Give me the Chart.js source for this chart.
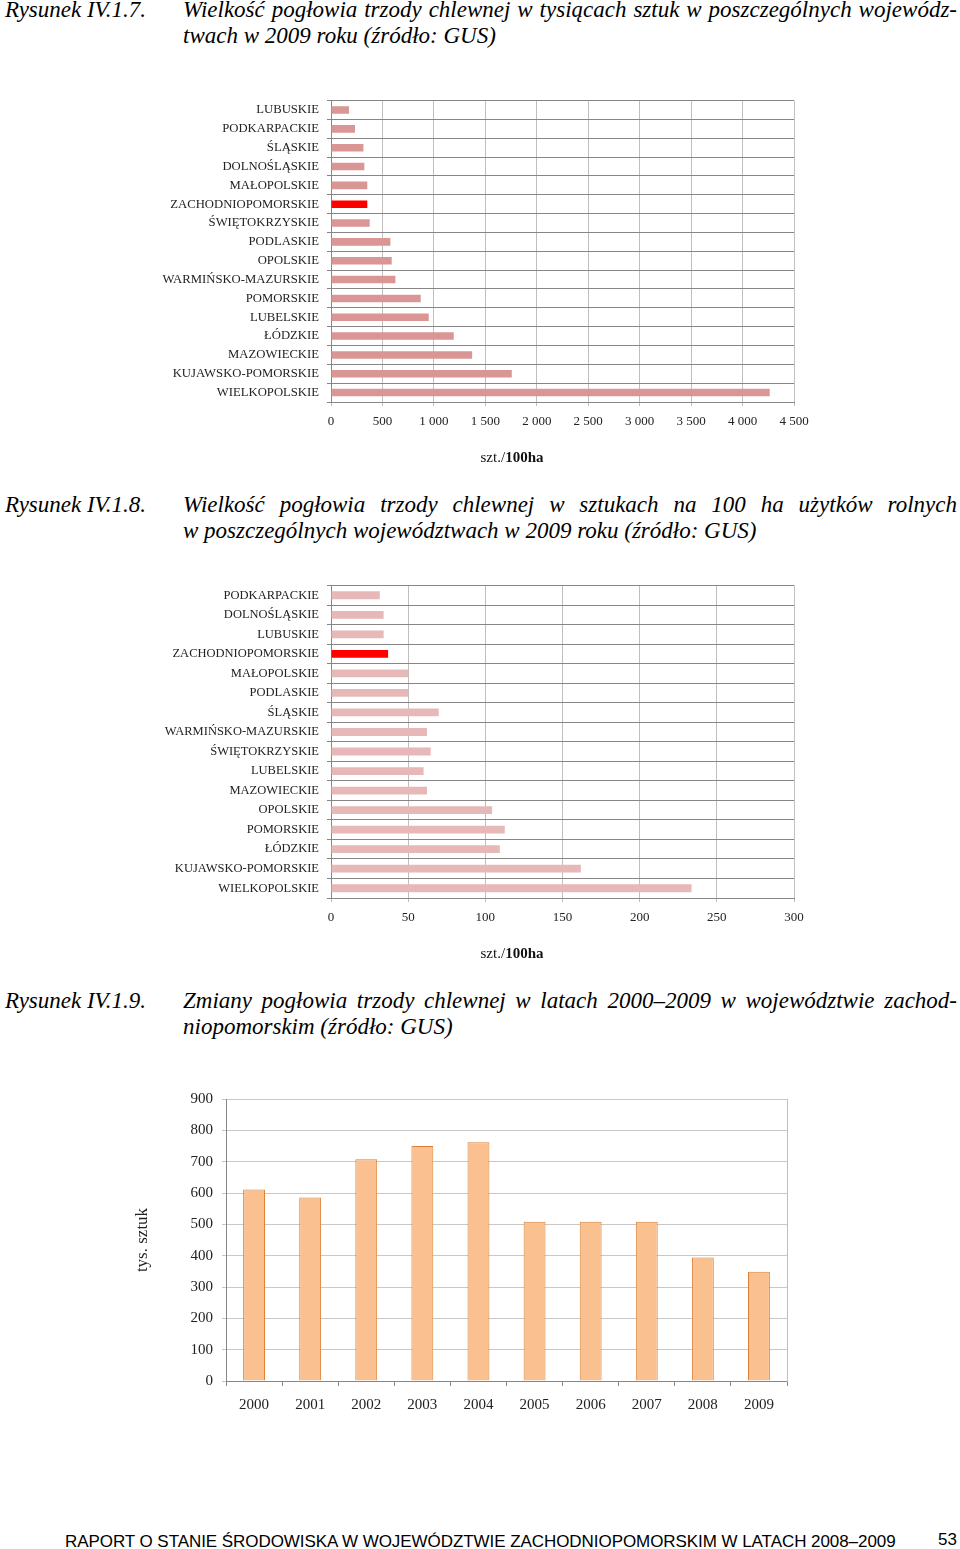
<!DOCTYPE html>
<html lang="pl">
<head>
<meta charset="utf-8">
<title>Pogłowie trzody chlewnej</title>
<script src="https://cdn.jsdelivr.net/npm/chart.js@4.4.0/dist/chart.umd.min.js"></script>
<style>
  body { margin: 0; background: #fff; width: 960px; height: 1549px; position: relative; overflow: hidden; font-family: "Liberation Serif", serif; color: #000; }
  .cap { position: absolute; font-style: italic; font-size: 23px; line-height: 26px; white-space: nowrap; }
  .num { left: 5px; }
  .txt { left: 183px; width: 774px; }
  .just { text-align: justify; text-align-last: justify; }
  .box { position: absolute; }
  .jedn { position: absolute; left: 412px; width: 200px; text-align: center; font-size: 15px; line-height: 18px; color: #111; }
  .stopka { position: absolute; left: 65px; top: 1532px; font-family: "Liberation Sans", sans-serif; font-size: 17px; line-height: 20px; letter-spacing: -0.06px; white-space: nowrap; }
  .strona { position: absolute; left: 938px; top: 1530px; font-family: "Liberation Sans", sans-serif; font-size: 17px; line-height: 20px; }
</style>
</head>
<body>

<div class="cap num" style="top:-3px">Rysunek IV.1.7.</div>
<div class="cap txt just" style="top:-3px">Wielkość pogłowia trzody chlewnej w tysiącach sztuk w poszczególnych wojewódz-</div>
<div class="cap txt" style="top:23px">twach w 2009 roku (źródło: GUS)</div>
<div class="box" style="left:150px;top:85px;width:670px;height:385px"><canvas id="wykres1"></canvas></div>
<div class="jedn" style="top:448px">szt./<b>100ha</b></div>

<div class="cap num" style="top:492px">Rysunek IV.1.8.</div>
<div class="cap txt just" style="top:492px">Wielkość pogłowia trzody chlewnej w sztukach na 100 ha użytków rolnych</div>
<div class="cap txt" style="top:518px">w poszczególnych województwach w 2009 roku (źródło: GUS)</div>
<div class="box" style="left:150px;top:570px;width:670px;height:395px"><canvas id="wykres2"></canvas></div>
<div class="jedn" style="top:944px">szt./<b>100ha</b></div>

<div class="cap num" style="top:988px">Rysunek IV.1.9.</div>
<div class="cap txt just" style="top:988px">Zmiany pogłowia trzody chlewnej w latach 2000–2009 w województwie zachod-</div>
<div class="cap txt" style="top:1014px">niopomorskim (źródło: GUS)</div>
<div class="box" style="left:120px;top:1081px;width:680px;height:344px"><canvas id="wykres3"></canvas></div>

<div class="stopka">RAPORT O STANIE ŚRODOWISKA W WOJEWÓDZTWIE ZACHODNIOPOMORSKIM W LATACH 2008–2009</div>
<div class="strona">53</div>

<script>
// Rysunek IV.1.7 - tys. sztuk wg województw
const woj1 = ["LUBUSKIE", "PODKARPACKIE", "ŚLĄSKIE", "DOLNOŚLĄSKIE", "MAŁOPOLSKIE", "ZACHODNIOPOMORSKIE",
  "ŚWIĘTOKRZYSKIE", "PODLASKIE", "OPOLSKIE", "WARMIŃSKO-MAZURSKIE", "POMORSKIE", "LUBELSKIE",
  "ŁÓDZKIE", "MAZOWIECKIE", "KUJAWSKO-POMORSKIE", "WIELKOPOLSKIE"];
const pogl1 = [175, 233, 315, 324, 353, 353, 376, 577, 590, 626, 872, 950, 1193, 1372, 1757, 4264];
const ticks1 = [0, 500, 1000, 1500, 2000, 2500, 3000, 3500, 4000, 4500];

// Rysunek IV.1.8 - szt./100 ha użytków rolnych
const woj2 = ["PODKARPACKIE", "DOLNOŚLĄSKIE", "LUBUSKIE", "ZACHODNIOPOMORSKIE", "MAŁOPOLSKIE", "PODLASKIE",
  "ŚLĄSKIE", "WARMIŃSKO-MAZURSKIE", "ŚWIĘTOKRZYSKIE", "LUBELSKIE", "MAZOWIECKIE", "OPOLSKIE",
  "POMORSKIE", "ŁÓDZKIE", "KUJAWSKO-POMORSKIE", "WIELKOPOLSKIE"];
const pogl2 = [31.6, 34.1, 34.1, 37, 50, 50, 69.8, 62.2, 64.6, 60, 62.2, 104.4, 112.6, 109.4, 161.9, 233.6];
const ticks2 = [0, 50, 100, 150, 200, 250, 300];

// Rysunek IV.1.9 - zmiany w zachodniopomorskim
const lata = ["2000", "2001", "2002", "2003", "2004", "2005", "2006", "2007", "2008", "2009"];
const pogl3 = [611, 586, 708, 750, 762, 508, 508, 508, 394, 349];
const ticks3 = [0, 100, 200, 300, 400, 500, 600, 700, 800, 900];

const WYROZNIONE = "ZACHODNIOPOMORSKIE";

function formatuj(v) {
  return v.toString().replace(/\B(?=(\d{3})+(?!\d))/g, " ");
}

function wykresPoziomy(id, nazwy, dane, kolor, ticks, wysX, czcionka) {
  const kolory = nazwy.map(n => n === WYROZNIONE ? "#FF0000" : kolor);
  new Chart(document.getElementById(id), {
    type: "bar",
    data: {
      labels: nazwy,
      datasets: [{
        data: dane,
        backgroundColor: kolory,
        borderWidth: 0,
        barPercentage: 0.8,
        categoryPercentage: 0.5
      }]
    },
    options: {
      indexAxis: "y",
      responsive: true,
      maintainAspectRatio: false,
      animation: false,
      layout: { padding: { top: 0, right: 26, left: 0, bottom: 0 } },
      plugins: { legend: { display: false }, tooltip: { enabled: false } },
      scales: {
        x: {
          min: ticks[0],
          max: ticks[ticks.length - 1],
          afterBuildTicks: s => { s.ticks = ticks.map(v => ({ value: v })); },
          afterFit: s => { s.height = wysX; },
          grid: { color: "#BFBFBF", tickLength: 4 },
          border: { color: "#868686" },
          ticks: {
            padding: 8,
            color: "#222",
            font: { family: "Liberation Serif", size: 13 },
            callback: v => formatuj(v)
          }
        },
        y: {
          afterFit: s => { s.width = 181; },
          grid: { color: "#868686", tickLength: 4 },
          border: { color: "#868686" },
          ticks: {
            padding: 8,
            color: "#222",
            font: { family: "Liberation Serif", size: czcionka }
          }
        }
      }
    }
  });
}

wykresPoziomy("wykres1", woj1, pogl1, "#D99694", ticks1, 68, 12.7);
wykresPoziomy("wykres2", woj2, pogl2, "#E6B9B8", ticks2, 67, 12.5);

new Chart(document.getElementById("wykres3"), {
  type: "bar",
  data: {
    labels: lata,
    datasets: [{
      data: pogl3,
      backgroundColor: "#FAC090",
      borderColor: "#DC8236",
      borderWidth: 1,
      barPercentage: 0.78,
      categoryPercentage: 0.5
    }]
  },
  options: {
    responsive: true,
    maintainAspectRatio: false,
    animation: false,
    layout: { padding: { top: 0, right: 13, left: 0, bottom: 0 } },
    plugins: { legend: { display: false }, tooltip: { enabled: false } },
    scales: {
      x: {
        afterFit: s => { s.height = 44; },
        grid: { drawOnChartArea: false, color: "#868686", tickLength: 5 },
        border: { color: "#868686" },
        ticks: { padding: 10, color: "#222", font: { family: "Liberation Serif", size: 15 } }
      },
      y: {
        min: 0,
        max: 900,
        afterBuildTicks: s => { s.ticks = ticks3.map(v => ({ value: v })); },
        afterFit: s => { s.width = 106; },
        grid: { color: "#C8C8C8", tickLength: 4 },
        border: { color: "#868686" },
        ticks: { padding: 9, color: "#222", font: { family: "Liberation Serif", size: 15 } },
        title: {
          display: true,
          text: "tys. sztuk",
          color: "#222",
          padding: { top: 12, bottom: 0 },
          font: { family: "Liberation Serif", size: 17 }
        }
      },
      y2: {
        position: "right",
        ticks: { display: false },
        grid: { drawOnChartArea: false, drawTicks: false },
        border: { color: "#BFBFBF" }
      }
    }
  }
});
</script>
</body>
</html>
